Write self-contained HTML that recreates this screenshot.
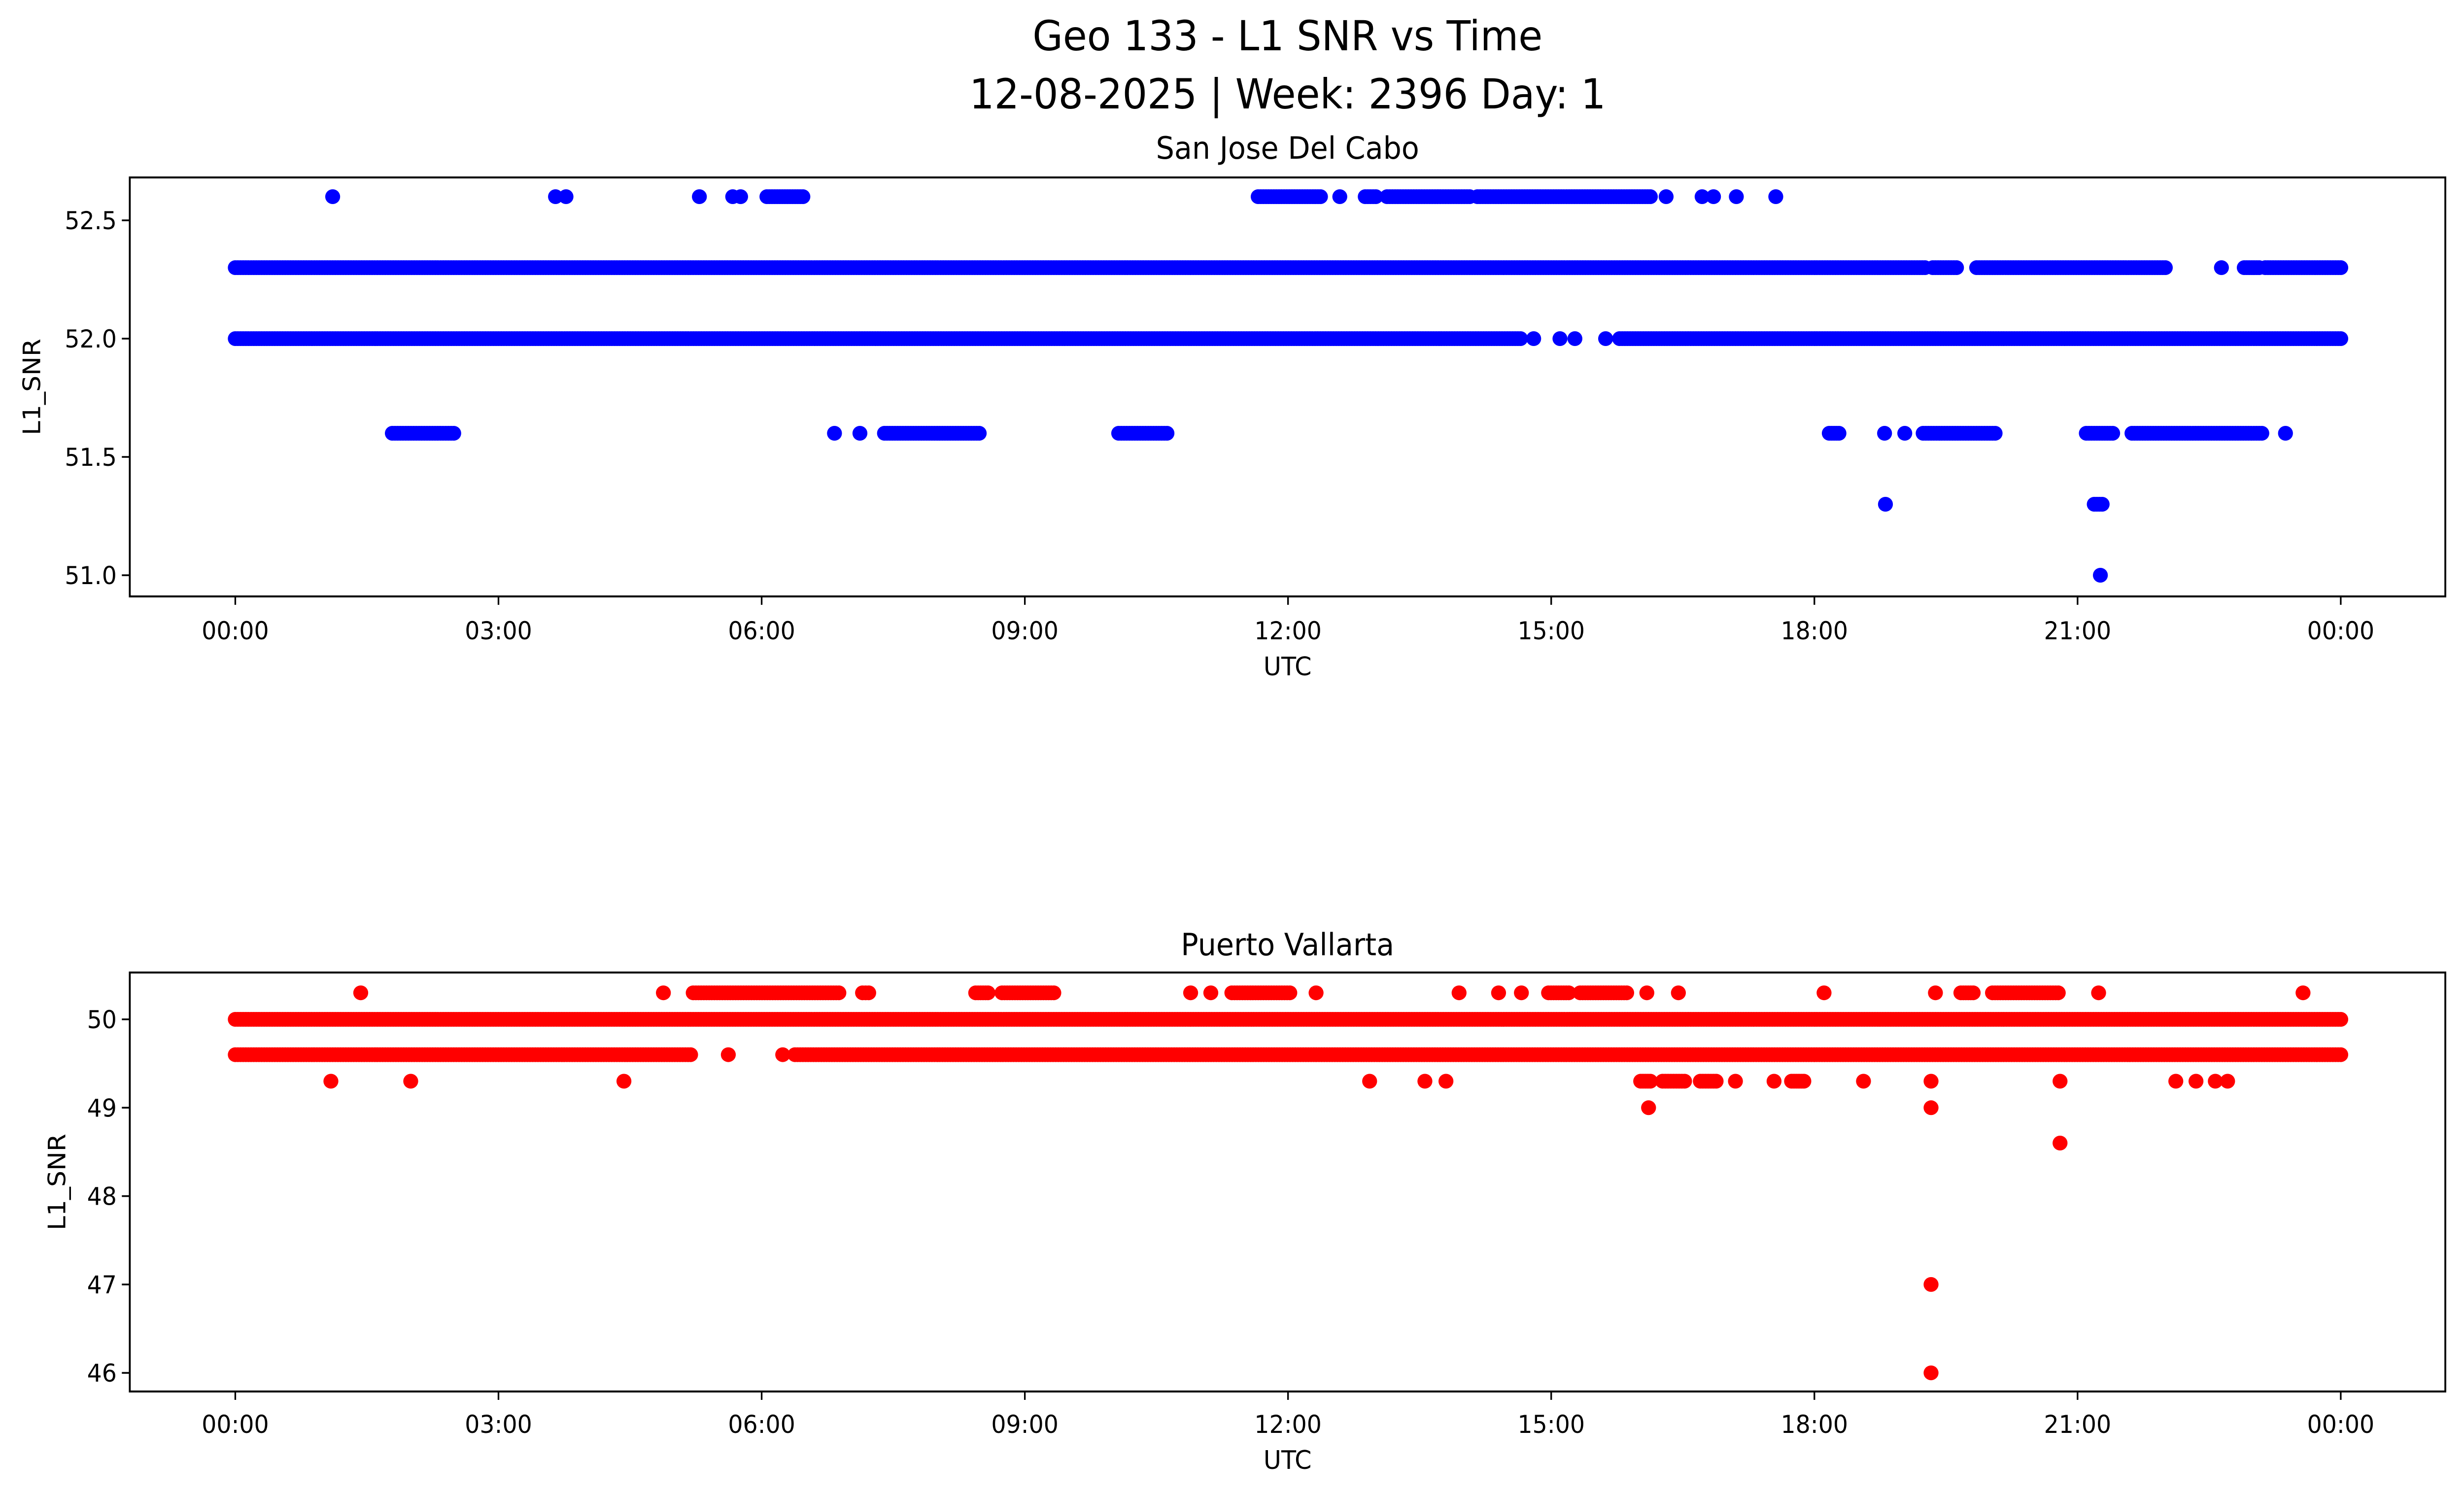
<!DOCTYPE html>
<html><head><meta charset="utf-8"><style>
html,body{margin:0;padding:0;background:#fff;width:100vw;height:100vh;overflow:hidden;}
svg{display:block;width:100vw;height:100vh;font-family:"DejaVu Sans","Liberation Sans",sans-serif;}
</style></head><body>
<svg id="fig" viewBox="0 0 5278 3033" preserveAspectRatio="none" xmlns="http://www.w3.org/2000/svg">
<rect width="5278" height="3033" fill="#fff"/>
<text x="2758" y="102" font-size="84" text-anchor="middle">Geo 133 - L1 SNR vs Time</text>
<text x="2758" y="220" font-size="84" text-anchor="middle">12-08-2025 | Week: 2396 Day: 1</text>
<g id="p1"></g>
<g id="p2"></g>
</svg>
<script>
// Data: runs of [snr, startHour, endHour]; single points have start == end
const xTickLabels = ["00:00","03:00","06:00","09:00","12:00","15:00","18:00","21:00","00:00"];
const sjdTicks = [52.5, 52.0, 51.5, 51.0];
const pvTicks = [50, 49, 48, 47, 46];
const sjdRuns = [
 [52.3,0,19.26],[52.3,19.35,19.62],[52.3,19.85,22.0],[52.3,22.64,22.64],[52.3,22.9,23.07],[52.3,23.14,24],
 [52.0,0,14.65],[52.0,14.8,14.8],[52.0,15.1,15.1],[52.0,15.27,15.27],[52.0,15.62,15.62],[52.0,15.78,24],
 [52.6,1.11,1.11],[52.6,3.65,3.65],[52.6,3.77,3.77],[52.6,5.29,5.29],[52.6,5.67,5.67],[52.6,5.76,5.76],[52.6,6.06,6.47],
 [52.6,11.66,12.37],[52.6,12.59,12.59],[52.6,12.88,13.0],[52.6,13.13,14.07],[52.6,14.16,16.13],[52.6,16.31,16.31],
 [52.6,16.72,16.72],[52.6,16.85,16.85],[52.6,17.11,17.11],[52.6,17.56,17.56],
 [51.6,1.79,2.49],[51.6,6.83,6.83],[51.6,7.12,7.12],[51.6,7.4,8.48],[51.6,10.07,10.62],[51.6,18.17,18.28],
 [51.6,18.8,18.8],[51.6,19.03,19.03],[51.6,19.24,20.06],[51.6,21.1,21.4],[51.6,21.62,23.1],[51.6,23.37,23.37],
 [51.3,18.81,18.81],[51.3,21.19,21.28],[51.0,21.26,21.26]
];
const pvRuns = [
 [50.0,0,24],
 [49.6,0,5.19],[49.6,5.62,5.62],[49.6,6.24,6.24],[49.6,6.38,24],
 [50.3,1.43,1.43],[50.3,4.88,4.88],[50.3,5.22,6.88],[50.3,7.15,7.22],[50.3,8.44,8.58],[50.3,8.74,9.33],[50.3,10.89,10.89],
 [50.3,11.12,11.12],[50.3,11.36,12.02],[50.3,12.32,12.32],[50.3,13.95,13.95],[50.3,14.4,14.4],[50.3,14.66,14.66],
 [50.3,14.97,15.2],[50.3,15.33,15.86],[50.3,16.09,16.09],[50.3,16.45,16.45],[50.3,18.11,18.11],[50.3,19.38,19.38],
 [50.3,19.67,19.81],[50.3,20.03,20.78],[50.3,21.24,21.24],[50.3,23.57,23.57],
 [49.3,1.09,1.09],[49.3,2.0,2.0],[49.3,4.43,4.43],[49.3,12.93,12.93],[49.3,13.56,13.56],[49.3,13.8,13.8],
 [49.3,16.02,16.13],[49.3,16.27,16.52],[49.3,16.7,16.88],[49.3,17.1,17.1],[49.3,17.54,17.54],[49.3,17.74,17.88],
 [49.3,18.56,18.56],[49.3,19.33,19.33],[49.3,20.8,20.8],[49.3,22.12,22.12],[49.3,22.35,22.35],[49.3,22.57,22.57],[49.3,22.71,22.71],
 [49.0,16.11,16.11],[49.0,19.33,19.33],[48.6,20.8,20.8],[47.0,19.33,19.33],[46.0,19.33,19.33]
];

const NS="http://www.w3.org/2000/svg";
function mk(tag, attrs, parent){const e=document.createElementNS(NS,tag);for(const k in attrs)e.setAttribute(k,attrs[k]);parent.appendChild(e);return e;}
const X0=504, XPH=4510/24, L=278, R=5238;
function xs(h){return X0+h*XPH;}

function panel(g, top, bottom, title, titleY, yFn, ticks, tickFmt, runs, color, xTickY, xLabY, yLabX){
  const t=mk('text',{x:(L+R)/2,y:titleY,'font-size':62,'text-anchor':'middle'},g);
  t.textContent=title;
  
  
  const pts=mk('g',{fill:color},g);
  
  
  runs.forEach(r=>{
    const v=r[0], a=r[1], b=r[2];
    const n=Math.max(1,Math.round((b-a)/0.03));
    for(let i=0;i<=n;i++){
      const h=(b===a)?a:a+(b-a)*i/n;
      const c=mk('ellipse',{cx:xs(h).toFixed(1),cy:yFn(v).toFixed(1),rx:16,ry:15},pts);
      
      
      if(b===a)break;
    }
  });
  const fr=mk('rect',{x:L,y:top,width:R-L,height:bottom-top,fill:'none',stroke:'#000','stroke-width':4},g);
  
  
  xTickLabels.forEach((lab,i)=>{
    const x=xs(i*3);
    const tk=mk('line',{x1:x,y1:bottom,x2:x,y2:bottom+17,stroke:'#000','stroke-width':3.5},g);
    
    
    const tl=mk('text',{x:x,y:xTickY,'font-size':50,'text-anchor':'middle'},g);
    tl.textContent=lab;
    
    
  });
  ticks.forEach(v=>{
    const y=yFn(v);
    const tk=mk('line',{x1:L,y1:y,x2:L-17,y2:y,stroke:'#000','stroke-width':3.5},g);
    
    
    const tl=mk('text',{x:L-28,y:y+18,'font-size':50,'text-anchor':'end'},g);
    tl.textContent=tickFmt(v);
    
    
  });
  const xl=mk('text',{x:(L+R)/2,y:xLabY,'font-size':52,'text-anchor':'middle'},g);
  xl.textContent='UTC';
  
  
  const yc=(top+bottom)/2;
  const yl=mk('text',{x:yLabX,y:yc,'font-size':52,'text-anchor':'middle',transform:`rotate(-90 ${yLabX} ${yc})`},g);
  yl.textContent='L1_SNR';
  
  
}
panel(document.getElementById('p1'),360,1210,'San Jose Del Cabo',322,v=>687-(v-52)*480,sjdTicks,v=>v.toFixed(1),sjdRuns,'#0000ff',1297,1370,86);
panel(document.getElementById('p2'),1973,2823,'Puerto Vallarta',1938,v=>2068-(v-50)*179.3,pvTicks,v=>String(v),pvRuns,'#ff0000',2907,2980,140);
</script>
</body></html>
